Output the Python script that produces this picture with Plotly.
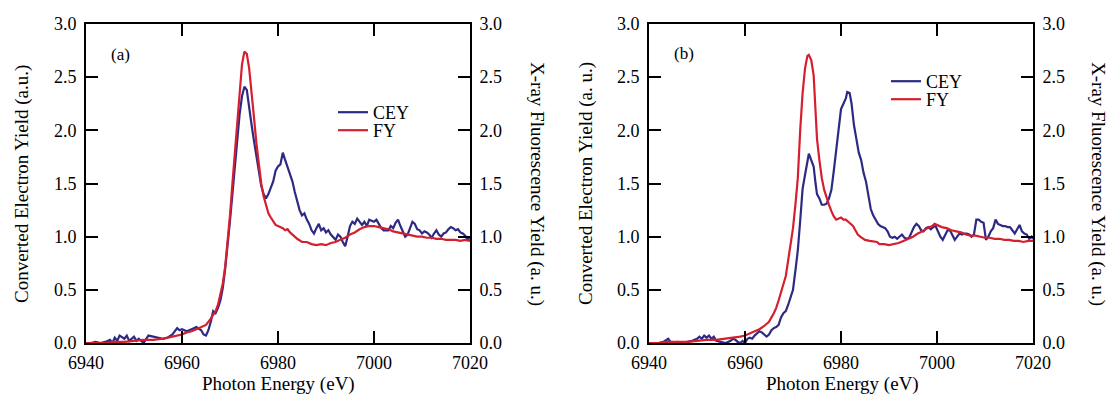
import plotly.graph_objects as go

NAVY = "#2d2a83"
RED = "#d61f2e"
FONT = "Times New Roman, Liberation Serif, DejaVu Serif, serif"

# ---------------- Panel (a) ----------------
cey_a_x = [6940, 6941, 6942, 6943, 6944, 6945, 6945.5, 6946, 6946.5, 6947, 6948, 6948.5, 6949, 6950, 6950.5,
           6951, 6952, 6952.5, 6953, 6954, 6955, 6956, 6957, 6958, 6959, 6959.5, 6960, 6961, 6962, 6963,
           6964, 6964.5, 6965, 6965.5, 6966, 6966.5, 6967, 6967.5, 6968, 6968.5, 6969, 6969.5, 6970, 6970.5,
           6971, 6971.5, 6972, 6972.5, 6973, 6973.5, 6974, 6974.5, 6975, 6975.5, 6976, 6976.5, 6977, 6977.5,
           6978, 6978.5, 6979, 6979.5, 6980, 6980.5, 6981, 6981.5, 6982, 6982.5, 6983, 6983.5, 6984, 6984.5,
           6985, 6985.5, 6986, 6986.5, 6987, 6987.5, 6988, 6988.5, 6989, 6989.5, 6990, 6990.5, 6991, 6992,
           6992.5, 6993, 6993.5, 6994, 6994.5, 6995, 6995.5, 6996, 6996.5, 6997, 6997.5, 6998, 6998.5, 6999,
           6999.5, 7000, 7000.5, 7001, 7001.5, 7002, 7003, 7003.5, 7004, 7004.5, 7005, 7005.5, 7006, 7006.5,
           7007, 7007.5, 7008, 7008.5, 7009, 7009.5, 7010, 7010.5, 7011, 7011.5, 7012, 7012.5, 7013, 7013.5,
           7014, 7014.5, 7015, 7015.5, 7016, 7016.5, 7017, 7017.5, 7018, 7018.5, 7019, 7019.5, 7020]
cey_a_y = [0.0, 0.0, 0.01, 0.0, 0.01, 0.03, 0.0, 0.05, 0.02, 0.07, 0.04, 0.07, 0.02, 0.06, 0.02,
           0.04, 0.0, 0.03, 0.07, 0.06, 0.05, 0.04, 0.05, 0.08, 0.14, 0.12, 0.13, 0.11, 0.13, 0.15,
           0.12, 0.08, 0.07, 0.12, 0.2, 0.3, 0.28, 0.33, 0.4, 0.52, 0.7, 0.9, 1.15, 1.4,
           1.65, 1.9, 2.15, 2.32, 2.41, 2.38, 2.2, 2.05, 1.9, 1.75, 1.6, 1.48, 1.4, 1.36,
           1.4, 1.47, 1.52, 1.62, 1.66, 1.68, 1.79, 1.72, 1.65, 1.6, 1.52, 1.42, 1.33, 1.25,
           1.2, 1.22, 1.16, 1.12, 1.06, 1.03, 1.08, 1.12, 1.06, 1.08, 1.04, 1.06, 1.02, 0.97,
           1.02, 1.0, 0.95, 0.91, 1.0, 1.1, 1.14, 1.12, 1.17, 1.14, 1.11, 1.14, 1.1, 1.16,
           1.15, 1.14, 1.16, 1.12, 1.08, 1.06, 1.06, 1.1, 1.08, 1.13, 1.16, 1.1, 1.04, 1.0,
           1.02, 1.08, 1.14, 1.12, 1.07, 1.06, 1.03, 1.05, 1.04, 1.02, 0.99, 1.03, 1.06, 1.02,
           1.0, 1.03, 1.04, 1.07, 1.09, 1.08, 1.06, 1.07, 1.04, 1.03, 1.01, 0.97, 0.99]

fy_a_x = [6940, 6942, 6944, 6946, 6948, 6950, 6952, 6954, 6956, 6958, 6960, 6961, 6962, 6963, 6964, 6965,
          6966, 6967, 6967.5, 6968, 6968.5, 6969, 6969.5, 6970, 6970.5, 6971, 6971.5, 6972, 6972.5, 6973,
          6973.5, 6974, 6974.5, 6975, 6975.5, 6976, 6976.5, 6977, 6977.5, 6978, 6978.5, 6979, 6979.5, 6980,
          6981, 6981.5, 6982, 6982.5, 6983, 6984, 6985, 6986, 6987, 6988, 6989, 6990, 6991, 6992, 6993,
          6994, 6995, 6996, 6997, 6998, 6999, 7000, 7001, 7002, 7003, 7004, 7005, 7006, 7007, 7008, 7009,
          7010, 7011, 7012, 7013, 7014, 7015, 7016, 7017, 7018, 7019, 7020]
fy_a_y = [0.0, 0.0, 0.0, 0.01, 0.01, 0.02, 0.03, 0.03, 0.04, 0.06, 0.08, 0.1, 0.11, 0.13, 0.15, 0.17,
          0.23, 0.3, 0.36, 0.45, 0.56, 0.72, 0.95, 1.2, 1.5, 1.8, 2.1, 2.4, 2.62, 2.74,
          2.72, 2.58, 2.38, 2.12, 1.88, 1.66, 1.5, 1.38, 1.29, 1.22, 1.18, 1.14, 1.11, 1.1,
          1.08, 1.06, 1.07, 1.04, 1.02, 0.98, 0.95, 0.95, 0.93, 0.92, 0.93, 0.92, 0.94, 0.95, 0.97,
          0.99, 1.02, 1.04, 1.07, 1.09, 1.1, 1.1, 1.09, 1.08, 1.07, 1.05, 1.04, 1.03, 1.02, 1.01, 1.0,
          1.0, 0.99, 0.99, 0.98, 0.98, 0.97, 0.97, 0.97, 0.96, 0.97, 0.96]

# ---------------- Panel (b) ----------------
cey_b_x = [6940, 6942, 6943, 6944, 6944.5, 6945, 6946, 6947, 6948, 6949, 6950, 6950.5, 6951, 6951.5, 6952,
           6952.5, 6953, 6953.5, 6954, 6955, 6956, 6957, 6957.5, 6958, 6958.5, 6959, 6959.5, 6960, 6960.5,
           6961, 6961.5, 6962, 6962.5, 6963, 6963.5, 6964, 6964.5, 6965, 6965.5, 6966, 6966.5, 6967, 6967.5,
           6968, 6968.5, 6969, 6969.5, 6970, 6970.5, 6971, 6971.5, 6972, 6972.5, 6973, 6973.3, 6973.8, 6974.3,
           6974.7, 6975, 6975.5, 6976, 6976.5, 6977, 6977.5, 6978, 6978.5, 6979, 6979.5, 6980, 6980.5, 6981,
           6981.3, 6981.8, 6982.2, 6982.7, 6983.2, 6983.7, 6984.2, 6984.7, 6985.2, 6985.7, 6986.2, 6986.7,
           6987.2, 6987.7, 6988.2, 6988.7, 6989.2, 6989.7, 6990.2, 6990.7, 6991.2, 6991.7, 6992.2, 6992.7,
           6993.2, 6993.7, 6994.2, 6994.7, 6995.2, 6995.7, 6996.2, 6996.7, 6997.2, 6997.7, 6998.2, 6998.7,
           6999.2, 6999.7, 7000.2, 7000.7, 7001.2, 7001.7, 7002.2, 7002.7, 7003.2, 7003.7, 7004.2, 7004.7,
           7005.2, 7005.7, 7006.2, 7006.7, 7007.2, 7007.7, 7008.2, 7008.7, 7009.2, 7009.7, 7010.2, 7010.7,
           7011.2, 7011.7, 7012.2, 7012.7, 7013.2, 7013.7, 7014.2, 7014.7, 7015.2, 7015.7, 7016.2, 7016.7,
           7017.2, 7017.7, 7018.2, 7018.7, 7019.2, 7019.7, 7020]
cey_b_y = [0.0, 0.0, 0.01, 0.04, 0.01, 0.0, 0.01, 0.0, 0.01, 0.02, 0.04, 0.06, 0.04, 0.07, 0.05,
           0.07, 0.04, 0.06, 0.02, 0.01, 0.0, 0.02, 0.04, 0.03, 0.01, 0.0, 0.02, 0.0, 0.04,
           0.05, 0.04, 0.07, 0.09, 0.11, 0.1, 0.08, 0.06, 0.08, 0.12, 0.14, 0.15, 0.17, 0.24,
           0.28, 0.3, 0.36, 0.42, 0.5, 0.68, 0.87, 1.15, 1.45, 1.58, 1.72, 1.78, 1.72, 1.66,
           1.5, 1.4, 1.36, 1.3, 1.3, 1.31, 1.36, 1.44, 1.62, 1.82, 1.98, 2.2, 2.25, 2.3,
           2.36, 2.35, 2.25, 2.05, 1.92, 1.79, 1.72, 1.6, 1.52, 1.38, 1.26, 1.2,
           1.16, 1.12, 1.1, 1.09, 1.08, 1.05, 1.0, 0.99, 1.0, 0.98, 1.0, 1.02,
           0.99, 0.98, 0.99, 1.04, 1.09, 1.12, 1.1, 1.06, 1.05, 1.08, 1.09, 1.07,
           1.09, 1.1, 1.05, 1.0, 0.97, 1.02, 1.06, 1.06, 1.02, 0.97, 1.0, 1.03,
           1.02, 1.03, 1.03, 1.02, 1.0, 1.02, 1.16, 1.16, 1.14, 1.13, 0.97, 1.0,
           1.05, 1.08, 1.16, 1.12, 1.11, 1.1, 1.1, 1.09, 1.09, 1.06, 1.03, 1.07,
           1.11, 1.05, 1.03, 1.02, 0.98, 1.0, 0.98]

fy_b_x = [6940, 6942, 6944, 6946, 6948, 6950, 6952, 6954, 6956, 6958, 6959, 6960, 6961, 6962, 6963, 6964,
          6965, 6966, 6966.5, 6967, 6967.5, 6968, 6968.5, 6969, 6969.5, 6970, 6970.5, 6971, 6971.5, 6972,
          6972.5, 6973, 6973.3, 6973.8, 6974.3, 6974.7, 6975, 6975.5, 6976, 6976.5, 6977, 6977.5, 6978,
          6978.5, 6979, 6979.5, 6980, 6980.5, 6981, 6981.5, 6982, 6982.5, 6983, 6983.5, 6984, 6985, 6986,
          6987, 6987.5, 6988, 6989, 6990, 6991, 6992, 6993, 6994, 6995, 6996, 6997, 6998, 6999, 6999.5,
          7000, 7001, 7002, 7003, 7004, 7005, 7006, 7007, 7008, 7009, 7010, 7011, 7012, 7013, 7014, 7015,
          7016, 7017, 7018, 7019, 7020]
fy_b_y = [0.0, 0.0, 0.01, 0.01, 0.01, 0.02, 0.03, 0.03, 0.04, 0.05, 0.06, 0.07, 0.09, 0.11, 0.13, 0.16,
          0.2, 0.28, 0.33, 0.4, 0.48, 0.55, 0.63, 0.78, 0.93, 1.08, 1.3, 1.55, 2.0, 2.35,
          2.58, 2.7, 2.71, 2.66, 2.52, 2.2, 1.92, 1.72, 1.55, 1.44, 1.36, 1.3, 1.24,
          1.19, 1.16, 1.17, 1.18, 1.16, 1.16, 1.14, 1.12, 1.1, 1.06, 1.02, 1.0, 0.97, 0.96,
          0.95, 0.95, 0.93, 0.93, 0.92, 0.93, 0.94, 0.96, 0.98, 1.0, 1.03, 1.05, 1.08, 1.1, 1.12,
          1.11, 1.09, 1.08, 1.06, 1.05, 1.04, 1.02, 1.01, 1.01, 1.0, 0.99, 0.99, 0.98, 0.98, 0.97, 0.97,
          0.96, 0.96, 0.95, 0.96, 0.96]

x_ticks = [6940, 6960, 6980, 7000, 7020]
y_ticks = [0.0, 0.5, 1.0, 1.5, 2.0, 2.5, 3.0]
y_tick_text = ["0.0", "0.5", "1.0", "1.5", "2.0", "2.5", "3.0"]

W, H = 1109, 396
dom_y = [1 - 343 / H, 1 - 24 / H]
dom_a = [86 / W, 470 / W]
dom_b = [649 / W, 1033 / W]

fig = go.Figure()
fig.add_trace(go.Scatter(x=cey_a_x, y=cey_a_y, mode="lines", name="CEY",
                         line=dict(color=NAVY, width=2.2), xaxis="x", yaxis="y", legend="legend"))
fig.add_trace(go.Scatter(x=fy_a_x, y=fy_a_y, mode="lines", name="FY",
                         line=dict(color=RED, width=2.2), xaxis="x", yaxis="y2", legend="legend3"))
fig.add_trace(go.Scatter(x=cey_b_x, y=cey_b_y, mode="lines", name="CEY",
                         line=dict(color=NAVY, width=2.2), xaxis="x2", yaxis="y3", legend="legend2"))
fig.add_trace(go.Scatter(x=fy_b_x, y=fy_b_y, mode="lines", name="FY",
                         line=dict(color=RED, width=2.2), xaxis="x2", yaxis="y4", legend="legend4"))

tickfont = dict(family=FONT, size=18, color="black")

def xax(domain, anchor):
    return dict(domain=domain, anchor=anchor, range=[6940, 7020], tickvals=x_ticks,
                ticks="inside", ticklen=12, tickwidth=2, tickcolor="black",
                showline=True, linecolor="black", linewidth=2, mirror="ticks",
                showgrid=False, zeroline=False, tickfont=tickfont, automargin=False,
                ticklabelstandoff=2)

def yax(anchor, side, overlay=None):
    d = dict(domain=dom_y, anchor=anchor, range=[0, 3], tickvals=y_ticks, ticktext=y_tick_text,
             ticks="inside", ticklen=12, tickwidth=2, tickcolor="black",
             showline=True, linecolor="black", linewidth=2, side=side,
             showgrid=False, zeroline=False, tickfont=tickfont, ticklabelstandoff=4,
             automargin=False)
    if overlay:
        d["overlaying"] = overlay
    return d

legfont = dict(family=FONT, size=18, color="black")

def leg(x, ytop):
    return dict(x=x / W, y=1 - ytop / H, xanchor="left", yanchor="top",
                bgcolor="rgba(0,0,0,0)", font=legfont, itemwidth=30)

fig.update_layout(
    width=W, height=H,
    margin=dict(l=0, r=0, t=0, b=0, autoexpand=False),
    paper_bgcolor="white", plot_bgcolor="white",
    font=dict(family=FONT, size=18, color="black"),
    xaxis=xax(dom_a, "y"),
    xaxis2=xax(dom_b, "y3"),
    yaxis=yax("x", "left"),
    yaxis2=yax("x", "right", "y"),
    yaxis3=yax("x2", "left"),
    yaxis4=yax("x2", "right", "y3"),
    legend=leg(333, 94),
    legend3=leg(333, 112),
    legend2=leg(886, 63),
    legend4=leg(886, 81),
    showlegend=True,
)

ann = []
def A(text, x, y, angle=0, size=19):
    ann.append(dict(text=text, x=x / W, y=1 - y / H, xref="paper", yref="paper",
                    showarrow=False, textangle=angle, xanchor="center", yanchor="middle",
                    font=dict(family=FONT, size=size, color="black")))

A("(a)", 120, 55, size=17)
A("(b)", 684, 53, size=17)
A("Converted Electron Yield (a.u.)", 22, 184, -90)
A("X-ray Fluorescence Yield (a. u.)", 537, 184, 90)
A("Converted Electron Yield (a. u.)", 586, 184, -90)
A("X-ray Fluorescence Yield (a. u.)", 1098, 184, 90)
A("Photon Energy (eV)", 278, 384)
A("Photon Energy (eV)", 842, 384)
fig.update_layout(annotations=ann)

fig.write_html("out.html")
